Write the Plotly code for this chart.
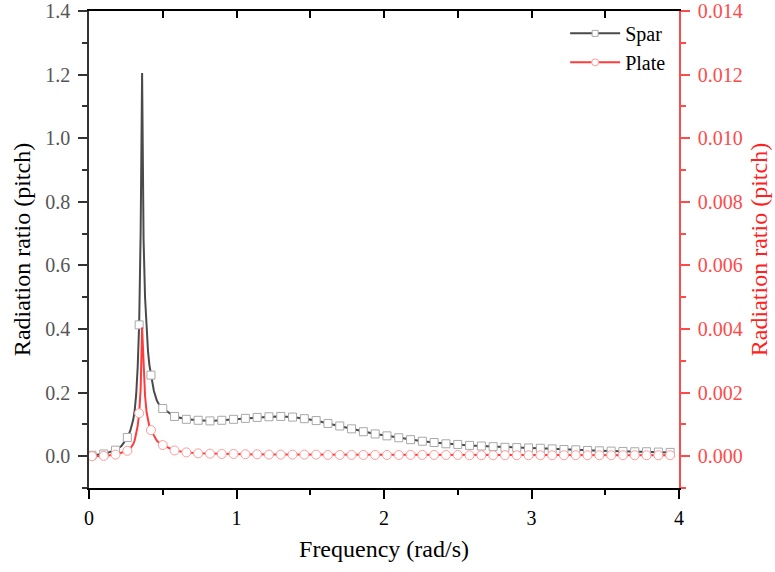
import plotly.graph_objects as go

# Frequencies where symbols are placed (rad/s)
freq_marked = [0.02, 0.10, 0.18, 0.26, 0.34, 0.42, 0.50, 0.58, 0.66, 0.74,
               0.82, 0.90, 0.98, 1.06, 1.14, 1.22, 1.30, 1.38, 1.46, 1.54,
               1.62, 1.70, 1.78, 1.86, 1.94, 2.02, 2.10, 2.18, 2.26, 2.34,
               2.42, 2.50, 2.58, 2.66, 2.74, 2.82, 2.90, 2.98, 3.06, 3.14,
               3.22, 3.30, 3.38, 3.46, 3.54, 3.62, 3.70, 3.78, 3.86, 3.94]

spar_marked = [0.003, 0.007, 0.019, 0.059, 0.413, 0.255, 0.150, 0.125, 0.116, 0.113,
               0.111, 0.113, 0.116, 0.119, 0.122, 0.124, 0.125, 0.123, 0.118, 0.112,
               0.103, 0.095, 0.086, 0.077, 0.070, 0.064, 0.058, 0.052, 0.047, 0.043,
               0.039, 0.037, 0.034, 0.032, 0.030, 0.028, 0.027, 0.026, 0.025, 0.023,
               0.021, 0.020, 0.018, 0.017, 0.016, 0.015, 0.014, 0.014, 0.013, 0.012]

plate_marked = [0.00000, 0.00001, 0.00005, 0.00017, 0.00135, 0.00082, 0.00035, 0.00018, 0.00012, 0.00009,
                0.00008, 0.00007, 0.00007, 0.00006, 0.00006, 0.00005, 0.00005, 0.00005, 0.00005, 0.00005,
                0.00004, 0.00004, 0.00004, 0.00004, 0.00004, 0.00004, 0.00004, 0.00004, 0.00004, 0.00004,
                0.00004, 0.00004, 0.00003, 0.00003, 0.00003, 0.00003, 0.00003, 0.00003, 0.00003, 0.00003,
                0.00003, 0.00003, 0.00003, 0.00003, 0.00003, 0.00003, 0.00003, 0.00003, 0.00003, 0.00003]

# Additional samples resolving the resonance peak (no symbols)
freq_fine = [0.22, 0.28, 0.30, 0.31, 0.32, 0.33, 0.35, 0.36, 0.37, 0.38,
             0.39, 0.40, 0.41, 0.44, 0.46, 0.48]
spar_fine = [0.032, 0.080, 0.115, 0.145, 0.195, 0.280, 0.700, 1.205, 0.680, 0.500,
             0.400, 0.330, 0.285, 0.205, 0.175, 0.158]
plate_fine = [0.00010, 0.00024, 0.00038, 0.00050, 0.00068, 0.00095, 0.00210, 0.00405, 0.00270, 0.00190,
              0.00140, 0.00108, 0.00092, 0.00063, 0.00049, 0.00040]

x_ticks = [0, 1, 2, 3, 4]

SPAR_LINE = "#4a4a4a"
SPAR_SYM = "#a8a8a8"
PLATE_LINE = "#ff3b3b"
PLATE_SYM = "#ff9a9a"
AXIS_RED = "#ff4a4a"
FONT = "Liberation Serif"
TICK_SIZE = 20
TITLE_SIZE = 24
MAJOR_LEN = 9
MINOR_LEN = 5


def merged(xa, ya, xb, yb):
    pts = sorted(zip(list(xa) + list(xb), list(ya) + list(yb)))
    return [p[0] for p in pts], [p[1] for p in pts]


spar_x, spar_y = merged(freq_marked, spar_marked, freq_fine, spar_fine)
plate_x, plate_y = merged(freq_marked, plate_marked, freq_fine, plate_fine)

fig = go.Figure()

# Spar: continuous curve plus hollow square symbols
fig.add_trace(go.Scatter(x=spar_x, y=spar_y, mode="lines",
                         line=dict(color=SPAR_LINE, width=2),
                         showlegend=False, hoverinfo="skip"))
fig.add_trace(go.Scatter(x=freq_marked, y=spar_marked, mode="markers",
                         marker=dict(symbol="square", size=8, color="white",
                                     line=dict(color=SPAR_SYM, width=1)),
                         showlegend=False))

# Plate: on the secondary (right) axis
fig.add_trace(go.Scatter(x=plate_x, y=plate_y, mode="lines", yaxis="y2",
                         line=dict(color=PLATE_LINE, width=2),
                         showlegend=False, hoverinfo="skip"))
fig.add_trace(go.Scatter(x=freq_marked, y=plate_marked, mode="markers", yaxis="y2",
                         marker=dict(symbol="circle", size=9, color="white",
                                     line=dict(color=PLATE_SYM, width=1)),
                         showlegend=False))

# Legend entries
fig.add_trace(go.Scatter(x=[None], y=[None], mode="lines+markers", name="Spar",
                         line=dict(color=SPAR_LINE, width=2),
                         marker=dict(symbol="square", size=6, color="white",
                                     line=dict(color=SPAR_SYM, width=1))))
fig.add_trace(go.Scatter(x=[None], y=[None], mode="lines+markers", name="Plate",
                         line=dict(color=PLATE_LINE, width=2),
                         marker=dict(symbol="circle", size=7, color="white",
                                     line=dict(color=PLATE_SYM, width=1))))

# Top frame edge carrying inward ticks
fig.add_trace(go.Scatter(x=[None], y=[None], xaxis="x2", showlegend=False))

fig.update_layout(
    width=775, height=572,
    margin=dict(l=89, r=96, t=11, b=84),
    paper_bgcolor="white", plot_bgcolor="white",
    font=dict(family=FONT, color="#000000"),
    showlegend=True,
    legend=dict(x=0.807, y=0.994, xanchor="left", yanchor="top",
                bgcolor="rgba(0,0,0,0)", font=dict(size=20, family=FONT, color="#000"),
                itemwidth=50, tracegroupgap=0),
    xaxis=dict(range=[0, 4], tickvals=x_ticks, ticks="outside", ticklen=MAJOR_LEN, tickwidth=1.5,
               tickcolor="#000", showline=True, linecolor="#000", linewidth=1.5,
               showgrid=False, zeroline=False, ticklabelstandoff=2, automargin=False,
               minor=dict(dtick=0.5, ticks="outside", ticklen=MINOR_LEN, tickwidth=1.5, tickcolor="#000"),
               tickfont=dict(size=TICK_SIZE, family=FONT, color="#000"),
               title=dict(text="Frequency (rad/s)", font=dict(size=TITLE_SIZE, family=FONT, color="#000"),
                          standoff=12)),
    xaxis2=dict(range=[0, 4], overlaying="x", side="top", tickvals=x_ticks, ticks="inside",
                ticklen=7, tickwidth=1.5, tickcolor="#000", showline=True, linecolor="#000",
                linewidth=1.5, showticklabels=False, showgrid=False, zeroline=False, automargin=False,
                minor=dict(dtick=0.5, ticks="inside", ticklen=7, tickwidth=1.5, tickcolor="#000")),
    yaxis=dict(range=[-0.1, 1.4], dtick=0.2, tick0=0, tickformat=".1f", ticks="outside",
               ticklen=MAJOR_LEN, tickwidth=1.5, tickcolor="#333", showline=True, linecolor="#333",
               linewidth=1.5, showgrid=False, zeroline=False, ticklabelstandoff=4, automargin=False,
               minor=dict(dtick=0.1, ticks="outside", ticklen=MINOR_LEN, tickwidth=1.5, tickcolor="#333"),
               tickfont=dict(size=TICK_SIZE, family=FONT, color="#555"),
               title=dict(text="Radiation ratio (pitch)", font=dict(size=TITLE_SIZE, family=FONT, color="#000"),
                          standoff=8)),
    yaxis2=dict(range=[-0.001, 0.014], overlaying="y", side="right", dtick=0.002, tick0=0,
                tickformat=".3f", ticks="outside", ticklen=MAJOR_LEN, tickwidth=1.5, tickcolor=AXIS_RED,
                showline=True, linecolor=AXIS_RED, linewidth=1.5, showgrid=False, zeroline=False,
                ticklabelstandoff=4, automargin=False,
                minor=dict(dtick=0.001, ticks="outside", ticklen=MINOR_LEN, tickwidth=1.5, tickcolor=AXIS_RED),
                tickfont=dict(size=TICK_SIZE, family=FONT, color=AXIS_RED),
                title=dict(text="Radiation ratio (pitch)", font=dict(size=TITLE_SIZE, family=FONT, color="#ff2020"),
                           standoff=8)),
)

fig.write_html("out.html")
